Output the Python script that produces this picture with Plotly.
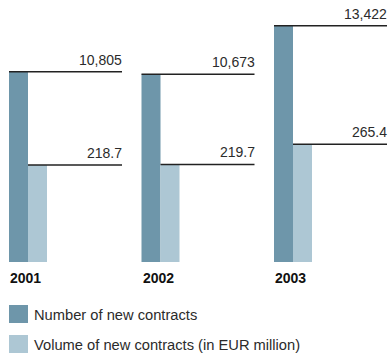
import plotly.graph_objects as go

# Data
years = ["2001", "2002", "2003"]
new_contracts = [10805, 10673, 13422]
volume_eur_m = [218.7, 219.7, 265.4]
count_labels = ["10,805", "10,673", "13,422"]
volume_labels = ["218.7", "219.7", "265.4"]
series_names = ["Number of new contracts", "Volume of new contracts (in EUR million)"]

DARK = "#6e96aa"
LIGHT = "#adc7d4"
LINE = "#222222"
TEXT = "#2b2b2b"
FONT = "Liberation Sans, Arial, sans-serif"

W, H = 390, 354
PLOT_H = 262              # plot area height (baseline at bottom)
GROUP_PX = 132.5          # pixels per category step
BAR_PX = 19
LEAD_PX = 113             # length of the value rule from bar left edge

bar_w = BAR_PX / GROUP_PX
rule_len = LEAD_PX / GROUP_PX
x0 = -9 / GROUP_PX
x1 = x0 + W / GROUP_PX
xs = list(range(len(years)))

fig = go.Figure()
fig.add_trace(go.Bar(x=xs, y=new_contracts, width=bar_w, offset=0,
                     marker=dict(color=DARK, line=dict(width=0)),
                     name=series_names[0], yaxis="y"))
fig.add_trace(go.Bar(x=xs, y=volume_eur_m, width=bar_w, offset=bar_w,
                     marker=dict(color=LIGHT, line=dict(width=0)),
                     name=series_names[1], yaxis="y2"))

shapes = []
annotations = []
value_font = dict(family=FONT, size=14, color=TEXT)
for i, x in enumerate(xs):
    # rule from the top of each bar out to the right, with the value above it
    shapes.append(dict(type="line", xref="x", yref="y", x0=x, x1=x + rule_len,
                       y0=new_contracts[i], y1=new_contracts[i],
                       line=dict(color=LINE, width=1.5)))
    annotations.append(dict(x=x + rule_len, y=new_contracts[i], xref="x", yref="y",
                            text=count_labels[i], showarrow=False,
                            xanchor="right", yanchor="bottom", xshift=2, yshift=2,
                            font=value_font))
    shapes.append(dict(type="line", xref="x", yref="y2", x0=x + bar_w, x1=x + rule_len,
                       y0=volume_eur_m[i], y1=volume_eur_m[i],
                       line=dict(color=LINE, width=1.5)))
    annotations.append(dict(x=x + rule_len, y=volume_eur_m[i], xref="x", yref="y2",
                            text=volume_labels[i], showarrow=False,
                            xanchor="right", yanchor="bottom", xshift=2, yshift=2,
                            font=value_font))
    # year label under each group
    annotations.append(dict(x=x, y=-16 / PLOT_H, xref="x", yref="paper",
                            text="<b>%s</b>" % years[i], showarrow=False,
                            xanchor="left", yanchor="middle", xshift=-1,
                            font=dict(family=FONT, size=14, color="#111111")))

# legend drawn as swatches + text
for k, (name, col) in enumerate(zip(series_names, [DARK, LIGHT])):
    top_px = 305 + 30 * k
    shapes.append(dict(type="rect", xref="paper", yref="paper",
                       x0=9 / W, x1=28 / W,
                       y0=(PLOT_H - top_px) / PLOT_H, y1=(PLOT_H - top_px - 18) / PLOT_H,
                       fillcolor=col, line=dict(width=0)))
    annotations.append(dict(x=34 / W, y=(PLOT_H - top_px - 10) / PLOT_H,
                            xref="paper", yref="paper", text=name, showarrow=False,
                            xanchor="left", yanchor="middle", xshift=-2,
                            font=dict(family=FONT, size=14.7, color=TEXT)))

fig.update_layout(
    width=W, height=H,
    margin=dict(l=0, r=0, t=0, b=H - PLOT_H),
    paper_bgcolor="white", plot_bgcolor="white",
    barmode="overlay", showlegend=False,
    xaxis=dict(range=[x0, x1], visible=False, fixedrange=True),
    yaxis=dict(range=[0, PLOT_H / 0.0176], visible=False),
    yaxis2=dict(range=[0, PLOT_H / 0.4441], visible=False, overlaying="y"),
    shapes=shapes, annotations=annotations,
)

fig.write_html("out.html")
